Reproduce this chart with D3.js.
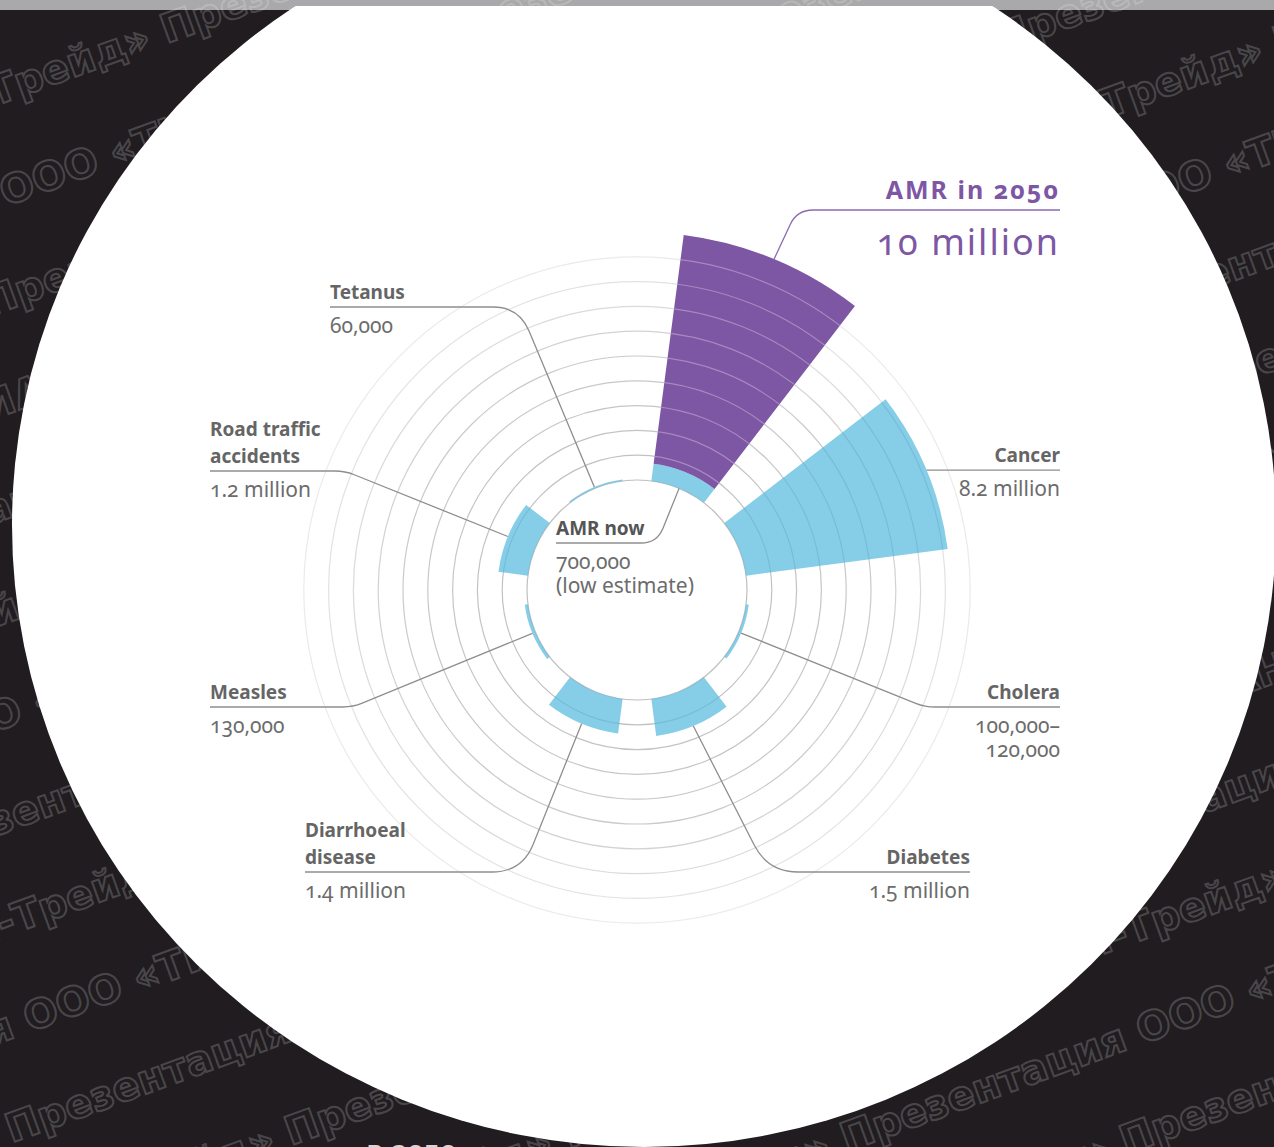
<!DOCTYPE html>
<html>
<head>
<meta charset="utf-8">
<script src="https://cdn.jsdelivr.net/npm/d3@7"></script>
<style>
  html, body { margin: 0; padding: 0; background: #201c20; }
  svg { display: block; }
  .lbl { font-family: "Noto Sans", "Open Sans", sans-serif; font-variant-numeric: oldstyle-nums; }
</style>
</head>
<body>
<script>
// deaths per year, millions
var causes = ["AMR now", "Cancer", "Cholera", "Diabetes", "Diarrhoeal disease", "Measles", "Road traffic accidents", "Tetanus"];
var deaths = [0.7, 8.2, 0.11, 1.5, 1.4, 0.13, 1.2, 0.06];
var amr2050 = 10;
var titleLines = [["AMR now"], ["Cancer"], ["Cholera"], ["Diabetes"], ["Diarrhoeal", "disease"], ["Measles"], ["Road traffic", "accidents"], ["Tetanus"]];
var valueLines = [["700,000", "(low estimate)"], ["8.2 million"], ["100,000–", "120,000"], ["1.5 million"], ["1.4 million"], ["130,000"], ["1.2 million"], ["60,000"]];
var gridTicks = [0, 1, 2, 3, 4, 5, 6, 7, 8, 9];

var width = 1274, height = 1147;
var cx = 637, cy = 590;
var cyan = "#86cee8", purple = "#7e57a4";

var svg = d3.select("body").append("svg").attr("width", width).attr("height", height);
var defs = svg.append("defs");

// backdrop: dark slide, grey strip on top, watermark, white disc
svg.append("rect").attr("width", width).attr("height", height).attr("fill", "#201c20");
svg.append("rect").attr("width", width).attr("height", 10).attr("fill", "#a9a8aa");

svg.append("text")
    .attr("class", "lbl")
    .attr("x", 366).attr("y", 1162)
    .attr("font-size", 30)
    .attr("fill", "#d6d6d6")
    .text("в 2050");

var phrase = "Презентация ООО «ТИАН-Трейд»  ";
var wm = svg.append("g").attr("transform", "rotate(-20)");
d3.range(-6, 19).forEach(function(i){
  wm.append("text")
      .attr("x", -900 + ((i * 260) % 780))
      .attr("y", i * 98)
      .attr("font-family", "DejaVu Sans")
      .attr("font-weight", "bold")
      .attr("font-size", 40)
      .attr("fill", "none")
      .attr("stroke", "rgba(255,255,255,0.2)")
      .attr("stroke-width", 2)
      .text(phrase + phrase + phrase + phrase);
});

defs.append("clipPath").attr("id", "below-strip")
  .append("rect").attr("x", 0).attr("y", 6).attr("width", width).attr("height", height);

svg.append("ellipse")
    .attr("clip-path", "url(#below-strip)")
    .attr("cx", 644).attr("cy", 525)
    .attr("rx", 632).attr("ry", 622)
    .attr("fill", "#ffffff");

// chart
var angle = d3.scaleBand().domain(causes).range([0, 2 * Math.PI]).paddingInner(1/3).paddingOuter(1/6);
var radius = d3.scaleLinear().domain([0, 10]).range([110, 358]);
var arc = d3.arc();

var bars = causes.map(function(c, i){ return {key: c, from: 0, to: deaths[i], color: cyan}; });
bars.push({key: "AMR now", from: deaths[0], to: amr2050, color: purple});

function barArc(d){
  var a0 = angle(d.key);
  return arc({innerRadius: radius(d.from), outerRadius: radius(d.to), startAngle: a0, endAngle: a0 + angle.bandwidth()});
}

var g = svg.append("g").attr("transform", "translate(" + cx + "," + cy + ")");

var ringOpacity = d3.scaleLinear().domain([0, 5, 9]).range([0.9, 0.75, 0.3]);
g.append("g").selectAll("circle")
  .data(gridTicks)
  .enter().append("circle")
    .attr("r", function(d){ return radius(d); })
    .attr("fill", "none")
    .attr("stroke", "#b8b8b8")
    .attr("stroke-opacity", function(d){ return ringOpacity(d); })
    .attr("stroke-width", 1.2);

g.append("g").selectAll("path")
  .data(bars)
  .enter().append("path")
    .attr("d", barArc)
    .attr("fill", function(d){ return d.color; });

// grid rings seen through the bars
[[cyan, "rgba(40,90,120,0.15)"], [purple, "rgba(255,255,255,0.3)"]].forEach(function(p, j){
  var cp = defs.append("clipPath").attr("id", "bars" + j);
  cp.selectAll("path")
    .data(bars.filter(function(d){ return d.color === p[0]; }))
    .enter().append("path")
      .attr("transform", "translate(" + cx + "," + cy + ")")
      .attr("d", barArc);
  svg.append("g").attr("clip-path", "url(#bars" + j + ")")
    .selectAll("circle")
    .data(gridTicks)
    .enter().append("circle")
      .attr("cx", cx).attr("cy", cy)
      .attr("r", function(d){ return radius(d); })
      .attr("fill", "none")
      .attr("stroke", p[1])
      .attr("stroke-width", 1.2);
});

// leader lines and labels
var layout = [
  {corner: [657, 543], endX: 556, round: 16, inner: true},
  {corner: null, endX: 1060, round: 0},
  {corner: [925, 707], endX: 1060, round: 10},
  {corner: [768, 872], endX: 970, round: 30},
  {corner: [522, 872], endX: 305, round: 30},
  {corner: [353, 707], endX: 210, round: 10},
  {corner: [345, 471], endX: 210, round: 10},
  {corner: [519, 307], endX: 330, round: 26}
];

function polar(key, r){
  var a = angle(key) + angle.bandwidth() / 2;
  return [cx + r * Math.sin(a), cy - r * Math.cos(a)];
}

function leader(A, C, endX, R){
  var p = d3.path();
  p.moveTo(A[0], A[1]);
  if (!C) { p.lineTo(endX, A[1]); return p.toString(); }
  var dx = A[0] - C[0], dy = A[1] - C[1], len = Math.sqrt(dx * dx + dy * dy);
  var h = endX > C[0] ? 1 : -1;
  p.lineTo(C[0] + dx / len * R, C[1] + dy / len * R);
  p.quadraticCurveTo(C[0], C[1], C[0] + h * R, C[1]);
  p.lineTo(endX, C[1]);
  return p.toString();
}

var labels = svg.append("g");
causes.forEach(function(c, i){
  var L = layout[i];
  var A = polar(c, L.inner ? radius(0) : radius(deaths[i]));
  var lineY = L.corner ? L.corner[1] : A[1];
  var startX = L.corner ? L.corner[0] : A[0];
  labels.append("path")
      .attr("d", leader(A, L.corner, L.endX, L.round))
      .attr("fill", "none")
      .attr("stroke", "#8e8e8e")
      .attr("stroke-width", 1.3);
  var anchor = L.endX < startX ? "start" : "end";
  var t = titleLines[i];
  t.forEach(function(s, k){
    labels.append("text").attr("class", "lbl")
        .attr("x", L.endX)
        .attr("y", lineY - 8 - (t.length - 1 - k) * 27)
        .attr("text-anchor", anchor)
        .attr("font-size", 19)
        .attr("font-weight", "bold")
        .attr("fill", i === 0 ? "#555555" : "#656565")
        .text(s);
  });
  valueLines[i].forEach(function(s, k){
    labels.append("text").attr("class", "lbl")
        .attr("x", L.endX)
        .attr("y", lineY + 26 + k * 24)
        .attr("text-anchor", anchor)
        .attr("font-size", 21)
        .attr("fill", "#6c6c6c")
        .text(s);
  });
});

// AMR in 2050 callout
var A2050 = polar("AMR now", radius(amr2050));
labels.append("path")
    .attr("d", leader(A2050, [797, 210], 1060, 16))
    .attr("fill", "none")
    .attr("stroke", "#8a6bb0")
    .attr("stroke-width", 1.3);
labels.append("text").attr("class", "lbl")
    .attr("x", 1060).attr("y", 199)
    .attr("text-anchor", "end")
    .attr("font-size", 25)
    .attr("font-weight", "bold")
    .attr("letter-spacing", 2)
    .attr("fill", purple)
    .text("AMR in 2050");
labels.append("text").attr("class", "lbl")
    .attr("x", 1060).attr("y", 255)
    .attr("text-anchor", "end")
    .attr("font-size", 36)
    .attr("letter-spacing", 2)
    .attr("fill", purple)
    .text(d3.format(",")(amr2050) + " million");
</script>
</body>
</html>
